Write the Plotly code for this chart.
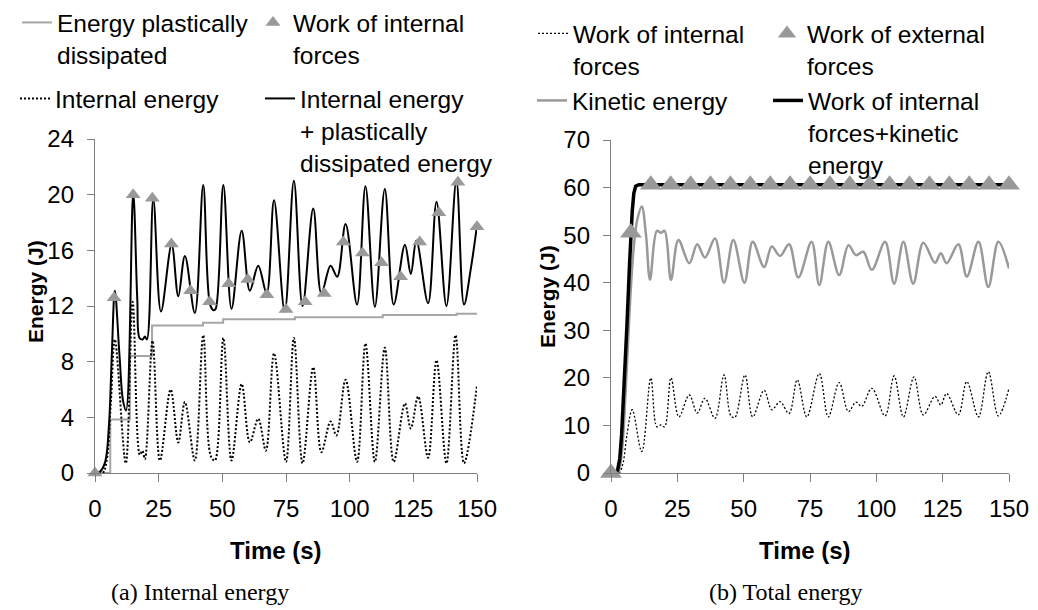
import plotly.graph_objects as go

W, H = 1038, 610

# ---------------- (a) Internal energy ----------------
t_total_a = [0, 2, 4, 5.5, 6.6, 7.8, 9.6, 11, 12.2, 15.0, 16.6, 17.5, 18.7, 19.6, 20.4, 22.9,
             25.9, 30.1, 32.7, 35.3, 39.2, 42.5, 45.2, 46.6, 47.4, 50.4, 53.6, 57.6, 60.8,
             64.1, 67.4, 70.3, 74.5, 78.1, 81.5, 85.7, 88.9, 92.5, 95.1, 98.4, 102.9, 106.2,
             109.9, 113.8, 117.3, 121.7, 124.0, 126.2, 130.8, 134.1, 138.0, 141.9, 144.9,
             147.5, 150]
v_total_a = [0, 0.1, 0.8, 3.5, 8.5, 13.1, 8.5, 5.2, 4.5, 20.1, 12.5, 9.7, 9.6, 9.8, 9.6, 19.7,
             11.6, 16.4, 12.7, 15.6, 11.5, 20.7, 12.1, 11.7, 11.8, 20.7, 11.8, 17.4, 13.1,
             14.9, 12.9, 19.6, 11.6, 21.0, 12.0, 19.0, 12.9, 14.9, 14.1, 17.9, 12.1, 20.6,
             11.95, 20.4, 12.1, 16.4, 14.3, 16.7, 12.2, 19.5, 12.0, 21.0, 12.1, 14.6, 17.8]

t_internal_a = [0, 3, 4.5, 6.2, 7.8, 12.1, 14.8, 17.6, 18.6, 19.6, 22.6, 25.5, 29.7, 32.7,
                35.3, 39.2, 42.5, 45.5, 47.1, 50.4, 53.6, 57.6, 60.8, 64.1, 67.1, 70.3, 75.0,
                78.1, 81.5, 85.7, 88.9, 92.5, 94.8, 98.4, 102.9, 106.2, 109.9, 113.8, 117.3,
                121.7, 124.0, 126.9, 130.8, 134.1, 138.0, 141.6, 144.9, 150]
v_internal_a = [0, 0, 0.8, 5, 9.6, 0.7, 12.3, 1.3, 1.6, 1.0, 9.5, 0.9, 6.0, 2.2, 5.1, 0.9, 9.9,
                1.2, 0.9, 9.7, 0.9, 6.4, 2.2, 3.9, 1.6, 8.6, 0.8, 9.7, 0.7, 7.6, 1.5, 3.7, 2.7,
                6.7, 0.8, 9.3, 0.8, 9.0, 0.8, 5.0, 3.2, 5.5, 1.1, 8.1, 0.7, 9.9, 0.7, 6.3]

t_plastic_a = [0, 6, 13.7, 22.4, 42.4, 50.3, 78.5, 113, 142, 150]
v_plastic_a = [0, 3.85, 8.4, 10.6, 10.8, 11.05, 11.2, 11.35, 11.45, 11.45]

t_marks = [0, 7.5, 15, 22.5, 30, 37.5, 45, 52.5, 60, 67.5, 75, 82.5, 90, 97.5, 105, 112.5,
           120, 127.5, 135, 142.5, 150]
v_work_int_a = [0, 12.6, 20.0, 19.75, 16.45, 13.1, 12.3, 13.6, 13.9, 12.8, 11.75, 12.3, 12.9,
                16.6, 15.8, 15.1, 14.1, 16.6, 18.7, 20.9, 17.7]

# ---------------- (b) Total energy ----------------
t_sum_b = [0, 1.5, 2.5, 3.3, 4, 5, 6, 7, 7.5, 8, 8.6, 9.3, 10.5, 150]
v_sum_b = [0, 0, 0.6, 3, 8, 18, 31, 44, 50, 55, 58.8, 60.3, 60.6, 60.6]

t_kin_b = [0, 2.5, 4, 5.5, 7, 8.5, 10, 11.6, 13.2, 14.7, 17.3, 18.8, 20.2, 22.6, 25.4, 29.5,
           32.5, 35.4, 39.2, 42.6, 46.1, 50.3, 53.4, 57.7, 60.6, 63.7, 67.1, 70.6, 75.6, 78.5,
           81.9, 86.0, 89.5, 92.3, 95.1, 98.3, 103.3, 106.7, 110.2, 113.9, 117.7, 122.1,
           124.3, 126.5, 130.9, 134.1, 138.5, 142.2, 146.0, 150]
v_kin_b = [0, 0, 4, 17, 34, 47, 53.5, 56.0, 50, 40.6, 50.9, 50.5, 50.9, 40.6, 49.0, 44.1,
           48.1, 45.3, 49.3, 40.0, 49.0, 40.0, 48.6, 43.3, 47.6, 45.6, 48.1, 41.1, 48.6, 39.5,
           48.6, 41.6, 47.9, 45.8, 46.5, 42.7, 48.6, 39.8, 48.6, 39.8, 48.4, 44.2, 46.2, 44.1,
           48.1, 41.3, 48.6, 39.1, 48.6, 43.0]

t_int_b = [0, 3, 4.5, 6, 8.0, 11.6, 15.0, 17.3, 18.8, 20.2, 22.6, 25.6, 29.5, 32.5, 35.4,
           39.2, 42.6, 45.2, 46.7, 50.5, 53.4, 57.7, 60.6, 63.7, 67.1, 70.2, 73.8, 78.5, 81.9,
           86.0, 89.5, 92.3, 94.5, 98.3, 103.3, 106.7, 110.2, 114.2, 117.7, 122.1, 124.3,
           126.5, 130.9, 134.1, 138.5, 142.2, 146.0, 150]
v_int_b = [0, 0, 2, 8, 13.3, 4.5, 20.0, 9.7, 10.1, 9.7, 20.0, 11.8, 16.4, 12.6, 15.7, 11.5,
           20.6, 12.0, 11.7, 20.6, 11.8, 17.4, 13.3, 15.0, 12.5, 19.6, 11.8, 20.9, 11.8, 19.0,
           12.9, 14.9, 14.0, 17.8, 12.0, 20.4, 11.8, 20.2, 12.2, 16.1, 14.3, 16.7, 12.2, 19.2,
           11.8, 21.3, 12.0, 17.8]

v_work_ext_b = [0, 50.5, 60.6, 60.6, 60.6, 60.6, 60.6, 60.6, 60.6, 60.6, 60.6, 60.6, 60.6,
                60.6, 60.6, 60.6, 60.6, 60.6, 60.6, 60.6, 60.6]

x_ticks = [0, 25, 50, 75, 100, 125, 150]
y_ticks_a = [0, 4, 8, 12, 16, 20, 24]
y_ticks_b = [0, 10, 20, 30, 40, 50, 60, 70]

FONT = "Liberation Sans, Arial, sans-serif"
GRAY_LINE = "#a6a6a6"
MARK = "#999999"
AX = "#7f7f7f"

fig = go.Figure()

# (a)
fig.add_trace(go.Scatter(x=t_plastic_a, y=v_plastic_a, mode="lines", line=dict(color=GRAY_LINE, width=2, shape="hv"),
                         name="Energy plastically<br>dissipated", legend="legend", xaxis="x", yaxis="y"))
fig.add_trace(go.Scatter(x=t_internal_a, y=v_internal_a, mode="lines",
                         line=dict(color="black", width=2, dash="2px,2px", shape="spline"),
                         name="Internal energy", legend="legend3", xaxis="x", yaxis="y"))
fig.add_trace(go.Scatter(x=t_total_a, y=v_total_a, mode="lines", line=dict(color="black", width=2, shape="spline"),
                         name="Internal energy<br>+ plastically<br>dissipated energy", legend="legend4",
                         xaxis="x", yaxis="y"))
fig.add_trace(go.Scatter(x=t_marks, y=v_work_int_a, mode="markers", cliponaxis=False,
                         marker=dict(symbol="triangle-up", size=13, color=MARK),
                         name="Work of internal<br>forces", legend="legend2", xaxis="x", yaxis="y"))

# (b)
fig.add_trace(go.Scatter(x=t_int_b, y=v_int_b, mode="lines",
                         line=dict(color="black", width=1.3, dash="2px,2px", shape="spline"),
                         name="Work of internal<br>forces", legend="legend5", xaxis="x2", yaxis="y2"))
fig.add_trace(go.Scatter(x=t_kin_b, y=v_kin_b, mode="lines", line=dict(color="#999999", width=2.5, shape="spline"),
                         name="Kinetic energy", legend="legend7", xaxis="x2", yaxis="y2"))
fig.add_trace(go.Scatter(x=t_sum_b, y=v_sum_b, mode="lines", line=dict(color="black", width=3.5),
                         name="Work of internal<br>forces+kinetic<br>energy", legend="legend8",
                         xaxis="x2", yaxis="y2"))
fig.add_trace(go.Scatter(x=t_marks, y=v_work_ext_b, mode="markers", cliponaxis=False,
                         marker=dict(symbol="triangle-up", size=19, color=MARK),
                         name="Work of external<br>forces", legend="legend6", xaxis="x2", yaxis="y2"))


def px(x):
    return x / W


def py(y):
    return 1 - y / H


def leg(x, y):
    return dict(x=px(x), y=py(y), xanchor="left", yanchor="top", bgcolor="rgba(0,0,0,0)",
                font=dict(family=FONT, size=24.5, color="black"), valign="top", itemwidth=30,
                tracegroupgap=0)


common_x = dict(range=[0, 150], tickvals=x_ticks, ticks="outside", ticklen=8, tickwidth=1.3,
                tickcolor=AX, showline=True, linecolor=AX, linewidth=1.3, showgrid=False,
                zeroline=False, tickfont=dict(family=FONT, size=24, color="black"),
                ticklabelstandoff=6, automargin=False)
common_y = dict(ticks="outside", ticklen=7, tickwidth=1.3, tickcolor=AX, showline=True,
                linecolor=AX, linewidth=1.3, showgrid=False, zeroline=False,
                tickfont=dict(family=FONT, size=24, color="black"), ticklabelstandoff=8,
                automargin=False)

fig.update_layout(
    width=W, height=H, margin=dict(l=0, r=0, t=0, b=0, autoexpand=False),
    paper_bgcolor="white", plot_bgcolor="white",
    font=dict(family=FONT, size=24, color="black"),
    xaxis=dict(domain=[px(95), px(477)], anchor="y", **common_x),
    yaxis=dict(domain=[py(473), py(139)], anchor="x", range=[0, 24], tickvals=y_ticks_a, **common_y),
    xaxis2=dict(domain=[px(611), px(1009)], anchor="y2", **common_x),
    yaxis2=dict(domain=[py(473), py(140)], anchor="x2", range=[0, 70], tickvals=y_ticks_b, **common_y),
    legend=leg(17, 0),
    legend2=leg(253, 0),
    legend3=leg(15, 76),
    legend4=leg(260, 76),
    legend5=leg(533, 11),
    legend6=leg(767, 11),
    legend7=leg(532, 78),
    legend8=leg(768, 78),
    showlegend=True,
)

annos = [
    dict(text="<b>Energy (J)</b>", x=px(35), y=py(292), textangle=-90, font=dict(size=21)),
    dict(text="<b>Energy (J)</b>", x=px(548), y=py(297), textangle=-90, font=dict(size=21)),
    dict(text="<b>Time (s)</b>", x=px(276), y=py(550), font=dict(size=24)),
    dict(text="<b>Time (s)</b>", x=px(805), y=py(550), font=dict(size=24)),
    dict(text="(a) Internal energy", x=px(200), y=py(592),
         font=dict(family="Liberation Serif, Times New Roman, serif", size=24)),
    dict(text="(b) Total energy", x=px(785), y=py(592),
         font=dict(family="Liberation Serif, Times New Roman, serif", size=24)),
]
for a in annos:
    fnt = dict(family=FONT, color="black")
    fnt.update(a.pop("font"))
    fig.add_annotation(xref="paper", yref="paper", showarrow=False, xanchor="center",
                       yanchor="middle", font=fnt, **a)

fig.write_html("out.html")
